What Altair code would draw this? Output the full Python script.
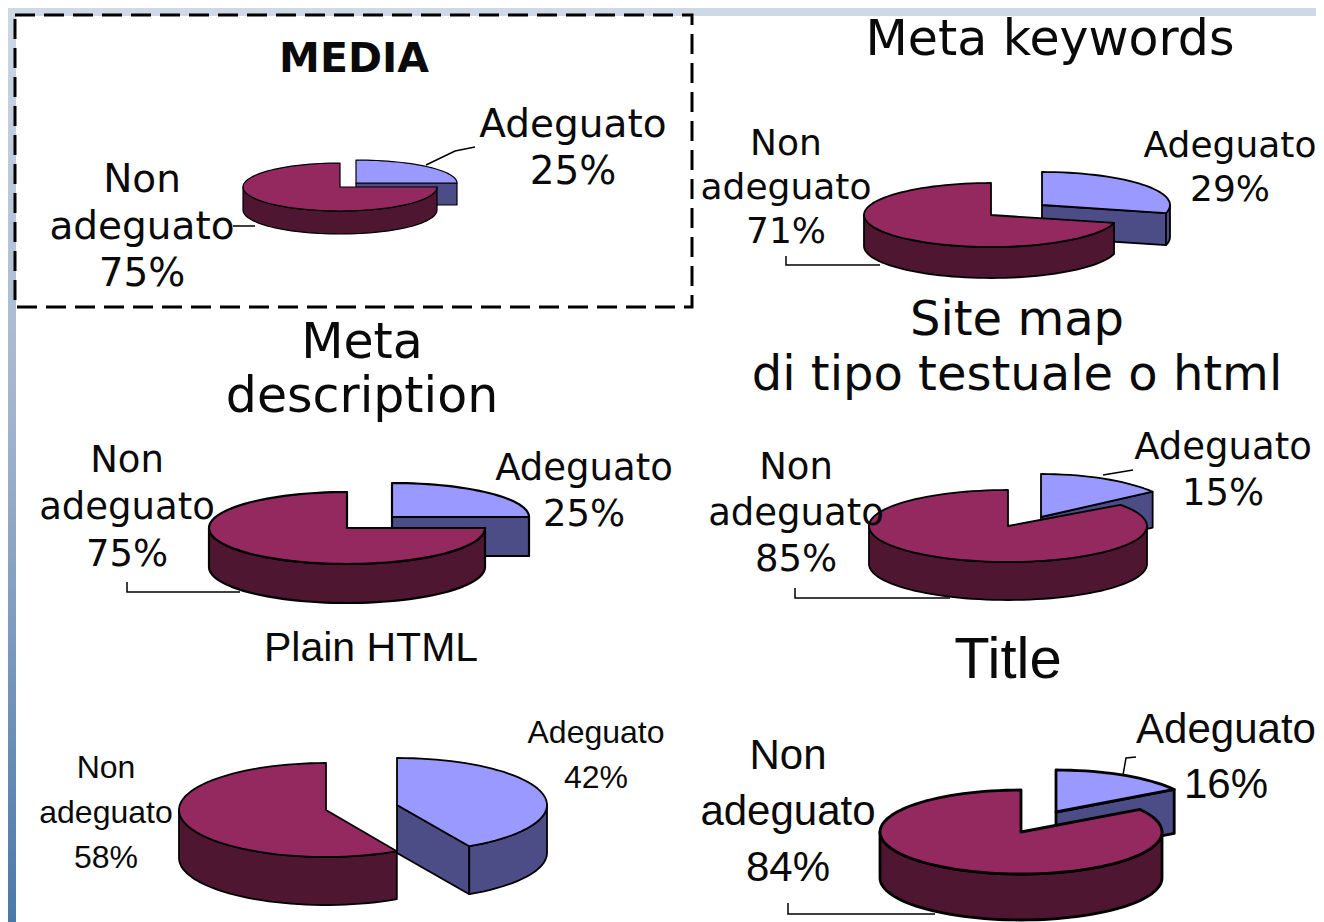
import math
import altair as alt
import pandas as pd

# ---- values ----
TITLES = ["MEDIA", "Meta keywords", "Meta|description", "Site map|di tipo testuale o html", "Plain HTML", "Title"]
ADEGUATO = [25, 29, 25, 15, 42, 16]
NON_ADEGUATO = [75, 71, 75, 85, 58, 84]
CATEGORY_A = "Adeguato"
CATEGORY_B = "Non|adeguato"

# ---- layout (reference-image pixels) ----
OFFSET = 8
# apex x, apex y, rx, ry, depth for each slice
GEOM_B = [(340, 187, 97, 24, 23), (991, 215, 127, 32, 31), (347, 528, 138, 36, 39),
          (1008, 526, 139, 36, 38), (326, 810, 147, 47, 48), (1021, 832, 141, 42, 46)]
GEOM_A = [(356, 183, 101, 23, 22), (1042, 205, 128, 33, 32), (392, 517, 137, 34, 39),
          (1041, 517, 138, 43, 36), (397, 805, 150, 47, 48), (1056, 812, 140, 42, 44)]
EDGE = [1.2, 1.8, 2.2, 1.8, 1.8, 2.8]
COLORS = {"a_top": "#9999ff", "a_side": "#4c4c86", "b_top": "#93295f", "b_side": "#4e1631"}

FONT_V = "DejaVu Sans"
FONT_A = "Liberation Sans"
# x, first baseline, line step, font, size for label groups
LAB_A = [(573, 137, 47, FONT_V, 39), (1230, 157, 44, FONT_V, 36), (584, 480, 46, FONT_V, 37),
         (1223, 459, 46, FONT_V, 37), (596, 743, 45, FONT_A, 32), (1226, 743, 55, FONT_A, 42)]
LAB_B = [(142, 192, 47, FONT_V, 39), (786, 155, 44, FONT_V, 36), (127, 472, 47, FONT_V, 37),
         (796, 479, 46, FONT_V, 37), (106, 778, 45, FONT_A, 32), (788, 769, 56, FONT_A, 42)]
TITLE_POS = [(354, 72, 0, FONT_V, 41, "bold"), (1050, 55, 0, FONT_V, 49, "normal"),
             (362, 358, 54, FONT_V, 49, "normal"), (1017, 335, 55, FONT_V, 48, "normal"),
             (371, 661, 0, FONT_A, 41, "normal"), (1008, 678, 0, FONT_A, 58, "normal")]
LEADERS = [[(426, 165), (455, 151), (475, 147)], [(233, 226), (255, 226)],
           [(786, 256), (786, 265), (880, 265)], [(127, 582), (127, 592), (240, 592)],
           [(1103, 475), (1133, 470)], [(795, 588), (795, 598), (950, 598)],
           [(1123, 775), (1126, 758), (1136, 757)], [(788, 903), (788, 914), (935, 914)]]


def p(x, y):
    return [x - OFFSET, y - OFFSET]


def pt(g, deg, drop=0):
    cx, cy, rx, ry, _ = g
    t = math.radians(deg)
    return p(cx + rx * math.sin(t), cy - ry * math.cos(t) + drop)


def arc(g, a, b, drop=0):
    n = max(2, int(abs(b - a) / 3))
    return [pt(g, a + (b - a) * i / n, drop) for i in range(n + 1)]


def feature(pts, kind, sw):
    ring = pts + [pts[0]]
    return {"type": "Feature", "geometry": {"type": "Polygon", "coordinates": [ring]},
            "properties": {"kind": kind, "sw": sw}}


def slice_features(g, a, b, prefix, sw, cut_face):
    out = []
    d = g[4]
    apex = p(g[0], g[1])
    lo, hi = max(a, 90), min(b, 270)
    if cut_face:
        tip = pt(g, b)
        out.append(feature([apex, tip, pt(g, b, d), [apex[0], apex[1] + d]], prefix + "_side", sw))
    if hi > lo:
        out.append(feature(arc(g, lo, hi) + arc(g, hi, lo, d), prefix + "_side", sw))
    out.append(feature([apex] + arc(g, a, b), prefix + "_top", sw))
    return out


features = []
for i in range(len(TITLES)):
    angle = ADEGUATO[i] * 3.6
    features += slice_features(GEOM_A[i], 0, angle, "a", EDGE[i], True)
    features += slice_features(GEOM_B[i], angle, 360, "b", EDGE[i], False)

pies = alt.Chart(alt.Data(values=features)).mark_geoshape(strokeJoin="round", stroke="#000000").encode(
    fill=alt.Fill("properties.kind:N", scale=alt.Scale(domain=list(COLORS), range=list(COLORS.values())), legend=None),
    strokeWidth=alt.StrokeWidth("properties.sw:Q", scale=None),
).project(type="identity", scale=1, translate=[0, 0])

text_rows = []


def add_block(lines, pos, weight="normal"):
    x, base, step, font, size = pos[:5]
    for j, line in enumerate(lines):
        text_rows.append({"t": line, "x": x - OFFSET, "y": base + j * step - OFFSET,
                          "f": font, "s": size, "w": weight})


for i in range(len(TITLES)):
    add_block(TITLES[i].split("|"), TITLE_POS[i], TITLE_POS[i][5])
    add_block([CATEGORY_A, f"{ADEGUATO[i]}%"], LAB_A[i])
    add_block(CATEGORY_B.split("|") + [f"{NON_ADEGUATO[i]}%"], LAB_B[i])

text_layers = []
tdf = pd.DataFrame(text_rows)
for (font, size, weight), grp in tdf.groupby(["f", "s", "w"]):
    text_layers.append(
        alt.Chart(grp).mark_text(font=font, fontSize=int(size), fontWeight=weight, align="center",
                                 baseline="alphabetic", color="#0a0a0a").encode(
            x=alt.X("x:Q", scale=None), y=alt.Y("y:Q", scale=None), text="t:N")
    )

leader_rows = [{"id": k, "o": n, "x": x - OFFSET, "y": y - OFFSET}
               for k, line in enumerate(LEADERS) for n, (x, y) in enumerate(line)]
leaders = alt.Chart(pd.DataFrame(leader_rows)).mark_line(color="#000000", strokeWidth=1.5).encode(
    x=alt.X("x:Q", scale=None), y=alt.Y("y:Q", scale=None), detail="id:N", order="o:Q")

W, H = 1308, 914
left_strip = alt.Chart(pd.DataFrame({"k": [0]})).mark_rect(
    color=alt.Gradient(gradient="linear", x1=0, x2=0, y1=0, y2=1,
                       stops=[alt.GradientStop(color="#cfd8e5", offset=0),
                              alt.GradientStop(color="#9fb2cb", offset=0.47),
                              alt.GradientStop(color="#4a79a9", offset=1)])
).encode(x=alt.value(0), x2=alt.value(16 - OFFSET), y=alt.value(0), y2=alt.value(H))
top_strip = alt.Chart(pd.DataFrame({"k": [0]})).mark_rect(color="#cfd8e5").encode(
    x=alt.value(0), x2=alt.value(W), y=alt.value(0), y2=alt.value(16 - OFFSET))
box = alt.Chart(pd.DataFrame({"k": [0]})).mark_rect(
    fill=None, stroke="#000000", strokeWidth=3, strokeDash=[20, 9]
).encode(x=alt.value(15 - OFFSET), x2=alt.value(692 - OFFSET), y=alt.value(15 - OFFSET), y2=alt.value(307 - OFFSET))

chart = alt.layer(left_strip, top_strip, box, leaders, pies, *text_layers).properties(
    width=W, height=H, padding=0, autosize=alt.AutoSizeParams(type="none"), background="#ffffff"
).configure_view(stroke=None)

chart.save("out.html", embed_options={"renderer": "svg", "actions": False})
